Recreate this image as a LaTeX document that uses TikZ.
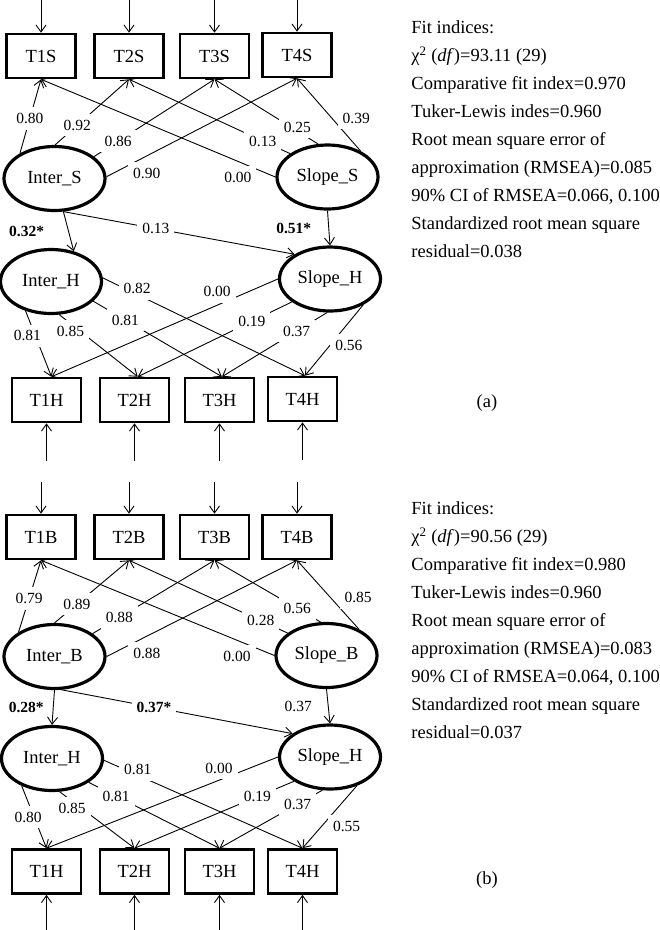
\documentclass[tikz,border=0pt]{standalone}
\usepackage{fontspec}
\setmainfont{Liberation Serif}
\usetikzlibrary{arrows.meta,shapes.geometric}

\begin{document}
\begin{tikzpicture}[->,>={Straight Barb[length=7pt,width=10pt]},x=1pt,y=-1pt,
 line width=0.9pt]
 \tikzstyle{obs}=[draw,rectangle,line width=2.6pt,minimum width=69pt,
  minimum height=44pt,font=\fontsize{18.5}{22}\selectfont]
 \tikzstyle{lat}=[draw,ellipse,line width=3.2pt,minimum width=101pt,
  minimum height=64pt,font=\fontsize{18.5}{22}\selectfont]
 \tikzstyle{lbl}=[fill=white,inner xsep=5pt,inner ysep=6pt,
  font=\fontsize{15.5}{18}\selectfont]
 \tikzstyle{blbl}=[inner sep=1.5pt,font=\fontsize{15.5}{18}\selectfont\bfseries]
 \tikzstyle{indices}=[align=left,anchor=north west,inner sep=0pt,
  font=\fontsize{18.5}{28}\selectfont]
 \useasboundingbox (0,0) rectangle (660,930);

 % (a)
 \node[obs] (T1S) at (41,56)  {T1S};
 \node[obs] (T2S) at (129,56) {T2S};
 \node[obs] (T3S) at (214.5,56) {T3S};
 \node[obs] (T4S) at (297,55) {T4S};
 \node[lat] (InterS) at (54.5,178.5) {Inter\_S};
 \node[lat] (SlopeS) at (327.5,177) {Slope\_S};
 \node[lat] (InterH) at (51,281.5) {Inter\_H};
 \node[lat] (SlopeH) at (330,279) {Slope\_H};
 \node[obs] (T1H) at (46.5,400)  {T1H};
 \node[obs] (T2H) at (134.5,400) {T2H};
 \node[obs] (T3H) at (219.5,400) {T3H};
 \node[obs] (T4H) at (302.5,399) {T4H};

 \foreach \n in {T1S,T2S,T3S,T4S}
  {\path (\n.north) ++(0,-33) coordinate (e\n); \draw (e\n) -- (\n);}
 \foreach \n in {T1H,T2H,T3H,T4H}
  {\path (\n.south) ++(0,38) coordinate (e\n); \draw (e\n) -- (\n);}

 \draw (InterS.144) -- node[lbl,pos=.47] {0.80} (T1S.south);
 \draw (InterS.89) -- node[lbl,pos=.3] {0.92} (T2S.south);
 \draw (InterS.29) -- node[lbl,pos=.2] {0.86} (T3S.south);
 \draw (InterS.2) -- node[lbl,pos=.18,xshift=6pt,yshift=-14pt] {0.90} (T4S.south);
 \draw (SlopeS.180) -- node[lbl,pos=.16,yshift=-16pt] {0.00} (T1S.south);
 \draw (SlopeS.148) -- node[lbl,pos=.17] {0.13} (T2S.south);
 \draw (SlopeS.106) -- node[lbl,pos=.2,yshift=4pt] {0.25} (T3S.south);
 \draw (SlopeS.38) -- node[lbl,pos=.4,xshift=21pt,yshift=4pt] {0.39} (T4S.south);

 \draw (InterS.-75) -- node[blbl,pos=.5,xshift=-42pt] {0.32*} (InterH.53);
 \draw (InterS.-75) -- node[lbl,pos=.4] {0.13} (SlopeH.145);
 \draw (SlopeS.south) -- node[blbl,pos=.5,xshift=-35pt] {0.51*} (SlopeH.north);

 \draw (InterH.229) -- node[lbl,pos=.38,xshift=-8pt] {0.81} (T1H.78);
 \draw (InterH.-76) -- node[lbl,pos=.27,xshift=-10pt] {0.85} (T2H.82);
 \draw (InterH.-25) -- node[lbl,pos=.25] {0.81} (T3H.84);
 \draw (InterH.4) -- node[lbl,pos=.17,yshift=6pt] {0.82} (T4H.84);
 \draw (SlopeH.180) -- node[lbl,pos=.22,xshift=-11pt,yshift=9pt] {0.00} (T1H.78);
 \draw (SlopeH.211) -- node[lbl,pos=.26] {0.19} (T2H.82);
 \draw (SlopeH.265) -- node[lbl,pos=.29] {0.37} (T3H.84);
 \draw (SlopeH.-38) -- node[lbl,pos=.52,xshift=16pt,yshift=-4pt] {0.56} (T4H.84);

 \node[indices] (fitA) at (411,20) {Fit indices:\\
  χ\textsuperscript{2} (\textit{df})=93.11 (29)\\
  Comparative fit index=0.970\\
  Tuker-Lewis indes=0.960\\
  Root mean square error of\\
  approximation (RMSEA)=0.085\\
  90\% CI of RMSEA=0.066, 0.100\\
  Standardized root mean square\\
  residual=0.038};
 \node[font=\fontsize{18.5}{22}\selectfont] (capA) at (487,403) {(a)};

 % (b)
 \node[obs] (T1B) at (41,537)  {T1B};
 \node[obs] (T2B) at (129,537) {T2B};
 \node[obs] (T3B) at (214.5,537) {T3B};
 \node[obs] (T4B) at (297,537) {T4B};
 \node[lat] (InterB) at (54.5,656.5) {Inter\_B};
 \node[lat] (SlopeB) at (326.5,655.5) {Slope\_B};
 \node[lat] (InterHb) at (52,758.5) {Inter\_H};
 \node[lat] (SlopeHb) at (330,757) {Slope\_H};
 \node[obs] (T1Hb) at (46.5,871.5)  {T1H};
 \node[obs] (T2Hb) at (134.5,871.5) {T2H};
 \node[obs] (T3Hb) at (219.5,871.5) {T3H};
 \node[obs] (T4Hb) at (302.5,871.5) {T4H};

 \foreach \n in {T1B,T2B,T3B,T4B}
  {\path (\n.north) ++(0,-32) coordinate (e\n); \draw (e\n) -- (\n);}
 \foreach \n in {T1Hb,T2Hb,T3Hb,T4Hb}
  {\path (\n.south) ++(0,37) coordinate (e\n); \draw (e\n) -- (\n);}

 \draw (InterB.146) -- node[lbl,pos=.47] {0.79} (T1B.south);
 \draw (InterB.90) -- node[lbl,pos=.3] {0.89} (T2B.south);
 \draw (InterB.31) -- node[lbl,pos=.22] {0.88} (T3B.south);
 \draw (InterB.0) -- node[lbl,pos=.18,xshift=6pt,yshift=-14pt] {0.88} (T4B.south);
 \draw (SlopeB.180) -- node[lbl,pos=.16,yshift=-16pt] {0.00} (T1B.south);
 \draw (SlopeB.150) -- node[lbl,pos=.17] {0.28} (T2B.south);
 \draw (SlopeB.100) -- node[lbl,pos=.22] {0.56} (T3B.south);
 \draw (SlopeB.39) -- node[lbl,pos=.4,xshift=24pt,yshift=4pt] {0.85} (T4B.south);

 \draw (InterB.south) -- node[blbl,pos=.5,xshift=-27pt] {0.28*} (InterHb.north);
 \draw (InterB.-78) -- node[lbl,pos=.4,font=\fontsize{15.5}{18}\selectfont\bfseries] {0.37*} (SlopeHb.148);
 \draw (SlopeB.south) -- node[blbl,pos=.5,xshift=-30pt,font=\fontsize{15.5}{18}\selectfont] {0.37} (SlopeHb.north);

 \draw (InterHb.222) -- node[lbl,pos=.5,xshift=-6pt] {0.80} (T1Hb.north);
 \draw (InterHb.-77) -- node[lbl,pos=.3,xshift=-10pt] {0.85} (T2Hb.north);
 \draw (InterHb.-33) -- node[lbl,pos=.21] {0.81} (T3Hb.north);
 \draw (InterHb.-2) -- node[lbl,pos=.17,yshift=6pt] {0.81} (T4Hb.north);
 \draw (SlopeHb.180) -- node[lbl,pos=.22,xshift=-8pt,yshift=9pt] {0.00} (T1Hb.north);
 \draw (SlopeHb.214) -- node[lbl,pos=.23] {0.19} (T2Hb.north);
 \draw (SlopeHb.257) -- node[lbl,pos=.24] {0.37} (T3Hb.north);
 \draw (SlopeHb.-47) -- node[lbl,pos=.5,xshift=17pt,yshift=-9pt] {0.55} (T4Hb.north);

 \node[indices] (fitB) at (411,501) {Fit indices:\\
  χ\textsuperscript{2} (\textit{df})=90.56 (29)\\
  Comparative fit index=0.980\\
  Tuker-Lewis indes=0.960\\
  Root mean square error of\\
  approximation (RMSEA)=0.083\\
  90\% CI of RMSEA=0.064, 0.100\\
  Standardized root mean square\\
  residual=0.037};
 \node[font=\fontsize{18.5}{22}\selectfont] (capB) at (487,880) {(b)};
\end{tikzpicture}
\end{document}
